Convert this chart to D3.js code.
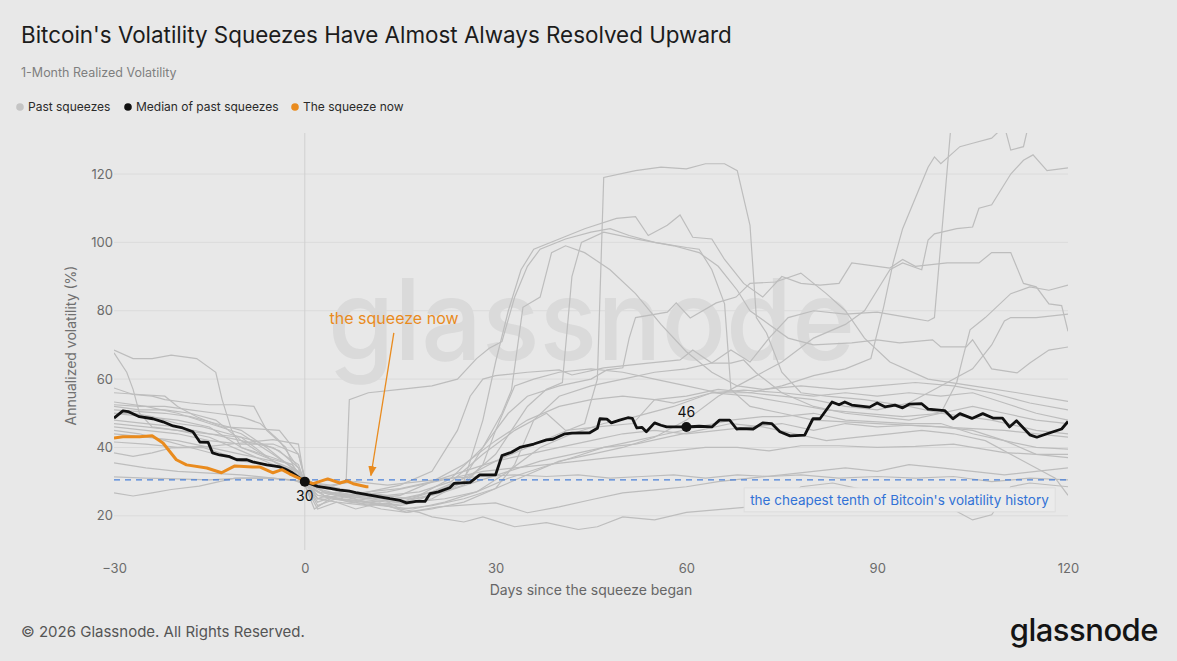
<!DOCTYPE html>
<html>
<head>
<meta charset="utf-8">
<script src="https://cdn.jsdelivr.net/npm/d3@7"></script>
<style>
  body { margin: 0; background: #e8e8e8; font-family: Inter, "Noto Sans", sans-serif; }
</style>
</head>
<body>
<svg id="chart"></svg>
<script>
// Data: [days since squeeze began, 1-month realized vol %]
const xTicks = [-30, 0, 30, 60, 90, 120];
const yTicks = [20, 40, 60, 80, 100, 120];
const cheapLevel = 30.5;

const medianPast = [[-30,48.6],[-28.6,50.7],[-27.8,50.5],[-26,49],[-23.9,48.4],[-22.3,47.5],[-20.7,46.3],[-19.2,45.7],[-17.6,44.6],[-16.5,41.6],[-15.2,41.5],[-14.5,38.4],[-13.4,37.8],[-11.8,37.3],[-10.7,36.4],[-9.1,36.4],[-8.2,35.8],[-6,34.9],[-3.9,34.3],[-3.1,33.7],[-1.9,32.5],[0,30],
  [1,29.3],[2,28.6],[3,28.3],[4,28],[5.5,27.5],[7,27.2],[8,26.8],[10,26.1],[12,25.5],[13.4,25],[15,24.5],[16,23.8],[17.5,24.2],[18.9,24.2],[19.7,26.5],[21,27],[22.8,28.2],[23.5,29.5],[26,29.8],[27.5,32],[30,32],[31,37.6],[32.5,38.6],[33.8,40],[36,41],[38,42.2],[39,42.4],[40.9,44],[42,44.2],[44.8,44.3],[46,45.6],[46.4,48.4],[47.5,48.3],[48.2,47.2],[49.5,48],[50.8,48.7],[51.5,48.5],[52.2,45.7],[53,45.9],[53.7,44.6],[55,47.2],[56,46.5],[56.9,46],[60,46],[62,46.2],[64,46],[65.2,48],[66.8,48],[67.9,45.4],[68.5,45.5],[70.5,45.4],[72,47.2],[73.4,47],[74.7,44.6],[76.3,43.4],[78.6,43.6],[79.9,48.4],[81,48.4],[82.9,53.3],[84,52.5],[84.9,53.3],[86,52.4],[88.8,51.8],[90,53],[91.2,51.9],[92.8,52.4],[94,51.6],[95.1,52.7],[97,52.8],[98,51.2],[100.6,50.8],[101.9,48.4],[103,49.9],[104.9,48.5],[106.6,49.9],[108.2,48.6],[109.7,48.6],[110.8,46],[111.9,47.8],[114,43.7],[115.1,43],[116.7,44],[119,45.4],[120,47.6]];

const squeezeNow = [[-30,42.8],[-28.6,43.1],[-26,43.1],[-24,43.4],[-22.3,41.3],[-20.2,36.4],[-18.6,34.9],[-15.4,34],[-13.1,32.6],[-11,34.6],[-8.2,34.3],[-7.1,34.3],[-5,32.6],[-3.6,33.5],[-2.4,32.3],[0,30.2],[1.3,29.4],[3.6,30.8],[5.5,29.6],[6.6,30.2],[7.6,29.4],[9.7,28.5],[10,28.5]];

const medianMarks = [[0, 30, "30", "below"], [60, 46, "46", "above"]];

const past1 = [[-30,68.5],[-27,66],[-24,66],[-21,67],[-17,66],[-14,62],[-13,54],[-11.5,45],[-10,40],[-6,37],[-2,35],[0,30],[2,27],[5,26],[10,24],[15,23],[20,25],[25,30],[28,48],[30,65],[32,80],[34,92],[36,98],[40,101],[44,104],[49,107],[52,107.5],[54,102],[57,105],[59,108],[61,101.5],[64,101],[66,95],[69,88],[72,84],[75,90],[78,88],[81,87.5],[84,88],[86,94],[92,92.5],[94,95],[96,93],[101,94],[106,94],[108,97],[111,97],[113,88],[115,87],[117,82],[119,81.5],[120,74]];
const past2 = [[-30,67.7],[-28,62],[-27,57],[-26,50],[-24,46],[-20,45],[-15,44],[-10,42],[-5,40],[-1,35],[0,30],[2,26],[5,25],[10,24],[15,25],[20,27],[25,31],[30,36],[35,40],[40,44],[44,47],[46,60],[47,119],[52,121],[56,122],[60,121.5],[63,123],[66,123],[68,121],[70,105],[71,78],[72.6,73.5],[75,62],[78,56],[82,55],[88,54],[95,52],[100,50],[108,48],[115,45],[120,44]];
const past3 = [[-30,57.4],[-27,55.5],[-24,55],[-22,54],[-18,53],[-15,52.5],[-11,52.5],[-8,52],[-6,45],[-3,40],[-1,31],[0,30],[2,28],[5,29],[6.5,30],[7,54],[10,56],[15,57],[20,58],[24,60],[27,66],[29,69],[31,71],[33,84],[35,93],[37,98],[41,101],[45,103],[48,104],[51,102],[55,100],[60,98.5],[62,98],[64,92],[66,82],[67,57],[70,52],[75,50],[80,48],[90,47],[100,46],[110,45],[120,43]];
const past4 = [[-30,56],[-26,55.5],[-22,55],[-20,52],[-17,49],[-13,46],[-8,45.5],[-4,45],[-1,38],[0,31],[2,25],[5,24],[10,23],[15,24],[20,27],[25,30],[30,38],[35,52],[38,57],[40.5,59],[42,90],[43.5,100],[47,103],[52,101],[58,99],[62,97],[65,93],[68,86],[70,80],[73,76],[76,72],[80,70],[86,70.6],[90,71.5],[93.5,70.6],[98.7,71.5],[100,69.4],[104,69.4],[105,71.5],[108,63],[112,61.8],[114,64.7],[117,68.5],[120,69.4]];
const past5 = [[-30,53.3],[-25,52],[-20,50],[-15,47],[-10,44],[-5,38],[-1,33],[0,29],[1.5,22],[4,25],[8,24],[12,22],[16,21],[20,22],[25,24],[30,28],[33,35],[36,48],[40,55],[45,58],[50,60],[55,62],[60,63],[64,64.7],[67,68.5],[70,65],[73,72],[76,78],[80,80],[85,79],[90,79.6],[95,78],[98,77],[99,78],[101.5,132],[103,140]];
const past6 = [[-30,52],[-26,51],[-22,51],[-18,50],[-14,48],[-10,42],[-5,36],[-1,33],[0,30],[2,24],[5,26],[10,25],[15,24],[20,26],[25,29],[28,35],[30,45],[33,58],[36,60],[40,62],[45,63],[50,62],[55,60],[60,58],[65,56],[70,56],[75,58],[80,61],[85,63],[89,66],[91,81],[92.5,94],[94,104],[96,113],[98,122],[99,125],[100,123],[103,128],[105,129],[108,130.5],[110,134],[111,127],[113,128],[114,136],[120,140]];
const past7 = [[-30,51],[-26,50.5],[-22,50],[-18,49],[-14,47],[-10,45],[-6,40],[-2,34],[0,29],[3,26],[6,25],[10,24],[15,22],[20,23],[25,25],[30,28],[35,32],[40,36],[45,38],[50,40],[55,43],[60,48],[65,55],[70,60],[75,65],[80,72],[85,76],[88,80],[90,86],[92,92],[94,94],[97,92],[98,100.7],[99,102.5],[102.5,104],[105,104.5],[106,110],[108,111],[111,120],[113,124],[114.5,125.6],[116.7,121],[120,121.8]];
const past8 = [[-30,50],[-25,49],[-20,48],[-15,46],[-10,40],[-5,37],[-2,35],[0,30],[3,27],[7,26],[12,25],[17,24],[22,25],[27,27],[32,33],[37,40],[42,44],[47,47],[52,49],[58,52],[64,56],[70,55],[76,53],[82,51],[88,50],[94,49],[100,50],[102.5,59],[103.5,66.5],[104.6,74.4],[107,78],[111,85],[114,87],[117,86],[120,87.5]];
const past9 = [[-30,46],[-25,45],[-20,44],[-15,42],[-10,41],[-5,41],[-1,38],[0,31],[2,28],[6,26],[10,25],[15,26],[20,30],[25,35],[30,42],[35,48],[40,52],[45,54],[50,55],[55,54],[60,55],[65,57],[70,56],[75,55],[80,54],[85,52],[90,51],[95,53],[100,58],[105,63],[108,70],[110,77],[111,78],[115,78],[120,79]];
const past10 = [[-30,45],[-26,44],[-22,42],[-18,40],[-14,38],[-10,36],[-5,35],[-1,33],[0,30],[3,29],[8,27],[13,26],[18,27],[23,30],[28,38],[33,45],[38,50],[41,45],[46,46],[51.6,47],[55,54],[58,53],[64,56],[69,56.8],[75,56],[80,55],[85,56],[90,55],[95,56],[100,55],[105,56],[110,53],[115,50],[120,48]];
const past11 = [[-30,44],[-25,43],[-20,42],[-15,40],[-10,38],[-5,36],[0,31],[3,28],[7,27],[12,26],[17,25],[22,27],[27,30],[32,33],[37,36],[42,38],[47,40],[52,42],[57,44],[62,46],[67,48],[72,49],[75,49],[80,50],[85,48],[90,47.5],[95,47],[100,47],[105,44],[110,42],[115,40],[120,39.5]];
const past12 = [[-30,41.6],[-25,41],[-20,40],[-15,40.3],[-10,41.3],[-5,42.3],[-1,41],[0,30],[2,25],[6,26],[10,27],[15,28],[20,30],[25,33],[30,36],[35,38],[40,40],[45,42],[50,44],[55,45],[60,44],[65,45],[70,46],[75,47],[80,45],[85,47],[90,46],[95,46.5],[100,46],[105,45],[110,42],[115,38],[120,37]];
const past13 = [[-30,38.4],[-27,37.4],[-24,38.4],[-21,39.9],[-16,40],[-11,37],[-6,35],[-1,33],[0,30],[3,27],[8,26],[13,27],[18,29],[23,31],[28,33],[33,34],[38,35],[43,36],[48,37],[53,38],[58,39],[63,40],[68,40],[73,39],[78,40.5],[84,40.5],[90,40],[96,40.3],[102,41],[105,40],[110,38.5],[115,38],[120,38]];
const past14 = [[-30,35.5],[-25,34],[-20,33],[-15,32.5],[-10,32],[-5,31],[0,30],[4,29],[8,30],[13,29],[18,30],[23,31],[28,31.5],[33,32],[38,31.5],[43,32],[48,31],[53,31.5],[58,32],[63,31],[68,32],[73,31.5],[78,32],[84,31],[90,31.5],[96,31],[102,31.5],[108,30],[114,31],[120,30.5]];
const past15 = [[-30,31.4],[-25,31],[-20,30.8],[-15,30.5],[-10,31],[-5,31],[0,30],[2,25],[5,27],[8,26],[11.8,25.5],[15,22],[18,21],[20,19.7],[25,18.2],[28,19.7],[33,16.8],[38,18],[43,16],[46,16.8],[50,19.7],[55,18.8],[60,21],[65,21.8],[70,22.6],[75,24],[78,28.5],[83,29.6],[88,27.6],[95,26],[100,23.8],[105,18.8],[108,20.3],[111,28.5],[114,29.6],[120,28.5]];
const past16 = [[-30,26.7],[-27,25.8],[-24,26.7],[-21,27.7],[-16.6,28.7],[-11,31],[-6,31],[-1.7,30.5],[0,29],[2,22],[5,24],[8,22],[11.8,23.8],[16,21],[21,22.6],[30,23.8],[35,20.9],[40,22.6],[45,24.7],[50,26.7],[55,27.6],[60,28.5],[65,30],[70,31],[75,32],[80,33],[85,34],[90,33],[95,35],[100,34],[105,33],[110,32],[115,33],[120,34]];
const past17 = [[-30,48],[-25,47],[-20,46],[-15,44],[-10,43],[-5,36],[0,30],[3,26],[7,24],[12,23],[17,22],[22,24],[27,27],[32,31],[37,34],[42,37],[47,40],[52,41],[57,43],[62,45],[67,47],[72,46],[77,44],[82,42],[87,43],[92,44],[97,45],[102,44],[107,42],[112,37],[115,34],[118,31],[120,26]];
const past18 = [[-30,50],[-27,50],[-24,49],[-20,47],[-16,46],[-12,44],[-8,42],[-4,39],[-1,34],[0,30],[2,26],[5,25],[10,27],[15,29],[20,33],[24,45],[26,55],[28,60],[30,61],[35,62],[40,62.7],[42,61.2],[47,63.3],[54,64.7],[59,65.6],[61,68.5],[64,64.7],[67,64.7],[69,65.6],[71,61.8],[75,56],[80,52],[85,50],[90,49],[95,48],[100,50],[105,52],[110,50],[115,48],[120,47]];
const past19 = [[-30,47],[-25,46],[-20,45],[-15,43],[-10,39],[-5,35],[0,30],[3,27],[8,25],[13,24],[18,26],[23,31],[28,40],[32,50],[35,55],[40,58],[45,60],[47.5,62.7],[50,63.3],[51,72],[52,78],[57,79.6],[58.4,82.3],[60.6,77.9],[64.7,82.3],[67.8,84],[70,88],[74,88.4],[78,91],[82,85],[85,80],[88,72],[92,65],[98,60],[105,58],[112,56],[120,53.5]];
const past20 = [[-30,52.5],[-26,52],[-22,52],[-18,51],[-14,50],[-10,49],[-7,47],[-4,42],[-1,34],[0,30],[2,23],[5,25],[9,24],[13,23],[17,24],[21,27],[25,31],[28,40],[31,50],[32.5,56.8],[34.3,81],[37,84],[38.8,97],[41,99],[44,97],[48,92],[52,85],[56,76],[60,68],[64,62],[68,58],[72,57],[78,58],[84,57],[90,58],[96,59],[102,58],[108,56],[114,53],[120,51]];

const pastSqueezes = [past1, past2, past3, past4, past5, past6, past7, past8, past9, past10,
  past11, past12, past13, past14, past15, past16, past17, past18, past19, past20];

// annotation anchors in data units
const nowLabel = { day: 3.9, vol: 76 };
const nowArrow = { from: [14, 73.5], to: [10.4, 31.8] };
const cheapLabel = { day: 93.5, vol: 24.6, text: "the cheapest tenth of Bitcoin's volatility history" };

const W = 1177, H = 661;
const svg = d3.select("#chart").attr("width", W).attr("height", H);

svg.append("rect").attr("width", W).attr("height", H).attr("fill", "#e8e8e8");

const x = d3.scaleLinear().domain([-30, 120]).range([114, 1068]);
const y = d3.scaleLinear().domain([10, 132]).range([550, 133]);

// title block
svg.append("text").attr("x", 21).attr("y", 43)
  .attr("font-size", 22.4).attr("fill", "#1c1c1c")
  .text("Bitcoin's Volatility Squeezes Have Almost Always Resolved Upward");

svg.append("text").attr("x", 21).attr("y", 77)
  .attr("font-size", 12.5).attr("fill", "#7f7f7f")
  .text("1-Month Realized Volatility");

const legend = [
  { label: "Past squeezes", color: "#c4c4c4", x: 20 },
  { label: "Median of past squeezes", color: "#111111", x: 128 },
  { label: "The squeeze now", color: "#e98b1e", x: 295 }
];
const lg = svg.append("g").selectAll("g").data(legend).enter().append("g")
  .attr("transform", d => `translate(${d.x},107)`);
lg.append("circle").attr("r", 3.8).attr("fill", d => d.color);
lg.append("text").attr("x", 8).attr("dy", "0.35em")
  .attr("font-size", 12).attr("fill", "#2a2a2a").text(d => d.label);

// watermark
svg.append("text").attr("x", 328).attr("y", 360)
  .attr("font-size", 113).attr("font-weight", 500).attr("fill", "#dadada")
  .attr("textLength", 527).attr("lengthAdjust", "spacingAndGlyphs")
  .text("glassnode");

// grid
svg.append("g").selectAll("line").data(yTicks).enter().append("line")
  .attr("x1", x(-30)).attr("x2", x(120))
  .attr("y1", d => y(d)).attr("y2", d => y(d))
  .attr("stroke", "#dbdbdb").attr("stroke-width", 1);

svg.append("line")
  .attr("x1", x(0)).attr("x2", x(0)).attr("y1", y(132)).attr("y2", y(10))
  .attr("stroke", "#d0d0d0").attr("stroke-width", 1);

// axes
const yAxis = svg.append("g").attr("transform", `translate(${x(-30) - 1},0)`)
  .call(d3.axisLeft(y).tickValues(yTicks).tickSize(0).tickPadding(0));
yAxis.select(".domain").remove();
yAxis.selectAll("text").attr("font-size", 13).attr("fill", "#6b6b6b")
  .attr("font-family", "Inter, sans-serif");

const xAxis = svg.append("g").attr("transform", `translate(0,564)`)
  .call(d3.axisBottom(x).tickValues(xTicks).tickSize(0).tickPadding(0)
    .tickFormat(d => d < 0 ? "\u2212" + Math.abs(d) : d));
xAxis.select(".domain").remove();
xAxis.selectAll("text").attr("font-size", 13).attr("fill", "#6b6b6b")
  .attr("font-family", "Inter, sans-serif");

svg.append("text").attr("x", (x(-30) + x(120)) / 2).attr("y", 595)
  .attr("text-anchor", "middle").attr("font-size", 14).attr("fill", "#666")
  .text("Days since the squeeze began");

svg.append("text")
  .attr("transform", `translate(76,${(y(10) + y(132)) / 2 + 4}) rotate(-90)`)
  .attr("text-anchor", "middle").attr("font-size", 14).attr("fill", "#707070")
  .text("Annualized volatility (%)");

// lines
svg.append("defs").append("clipPath").attr("id", "plot")
  .append("rect").attr("x", x(-30)).attr("y", y(132))
  .attr("width", x(120) - x(-30)).attr("height", y(10) - y(132));

const line = d3.line().x(d => x(d[0])).y(d => y(d[1]));
const plot = svg.append("g").attr("clip-path", "url(#plot)");

plot.selectAll("path.past").data(pastSqueezes).enter().append("path")
  .attr("class", "past").attr("d", line)
  .attr("fill", "none").attr("stroke", "#bdbdbd").attr("stroke-width", 1.2);

// cheap-tenth threshold
plot.append("line")
  .attr("x1", x(-30)).attr("x2", x(120))
  .attr("y1", y(cheapLevel)).attr("y2", y(cheapLevel))
  .attr("stroke", "#4a80d8").attr("stroke-width", 1.3).attr("stroke-dasharray", "6,5");

plot.append("path").datum(medianPast).attr("d", line)
  .attr("fill", "none").attr("stroke", "#111").attr("stroke-width", 2.8)
  .attr("stroke-linejoin", "round");

plot.append("path").datum(squeezeNow).attr("d", line)
  .attr("fill", "none").attr("stroke", "#e98b1e").attr("stroke-width", 3)
  .attr("stroke-linejoin", "round");

// median markers
svg.selectAll("circle.mk").data(medianMarks).enter().append("circle")
  .attr("class", "mk").attr("cx", d => x(d[0])).attr("cy", d => y(d[1]))
  .attr("r", 5).attr("fill", "#111");
svg.selectAll("text.mk").data(medianMarks).enter().append("text")
  .attr("class", "mk").attr("x", d => x(d[0]))
  .attr("y", d => d[3] === "above" ? y(d[1]) - 10 : y(d[1]) + 19)
  .attr("text-anchor", "middle").attr("font-size", 14).attr("fill", "#111")
  .text(d => d[2]);

// "the squeeze now" annotation
svg.append("defs").append("marker").attr("id", "arrow")
  .attr("viewBox", "0 0 10 10").attr("refX", 9).attr("refY", 5)
  .attr("markerWidth", 8).attr("markerHeight", 8).attr("orient", "auto")
  .append("path").attr("d", "M0,1L10,5L0,9Z").attr("fill", "#e98b1e");

svg.append("line")
  .attr("x1", x(nowArrow.from[0])).attr("y1", y(nowArrow.from[1]))
  .attr("x2", x(nowArrow.to[0])).attr("y2", y(nowArrow.to[1]))
  .attr("stroke", "#e98b1e").attr("stroke-width", 1.3).attr("marker-end", "url(#arrow)");

svg.append("text").attr("x", x(nowLabel.day)).attr("y", y(nowLabel.vol))
  .attr("font-size", 16).attr("fill", "#e98b1e").text("the squeeze now");

// cheapest tenth annotation box
const cg = svg.append("g");
const ct = cg.append("text").attr("x", x(cheapLabel.day)).attr("y", y(cheapLabel.vol))
  .attr("text-anchor", "middle").attr("dy", "0.35em")
  .attr("font-size", 13.5).attr("fill", "#3272d6").text(cheapLabel.text);
const bb = ct.node().getBBox();
cg.insert("rect", "text")
  .attr("x", bb.x - 6).attr("y", bb.y - 4)
  .attr("width", bb.width + 12).attr("height", bb.height + 8)
  .attr("fill", "#ebebeb").attr("stroke", "#dedede").attr("stroke-width", 1);

// footer
svg.append("text").attr("x", 21).attr("y", 637)
  .attr("font-size", 15).attr("fill", "#555")
  .text("\u00a9 2026 Glassnode. All Rights Reserved.");

svg.append("text").attr("x", 1158).attr("y", 641)
  .attr("text-anchor", "end").attr("font-size", 31).attr("font-weight", 500)
  .attr("fill", "#141414").attr("letter-spacing", -0.5).text("glassnode");
</script>
</body>
</html>
